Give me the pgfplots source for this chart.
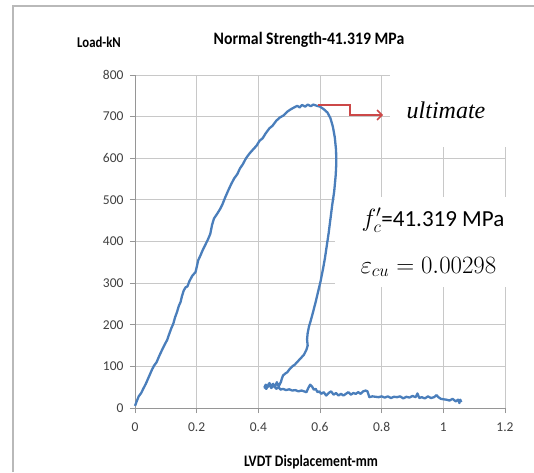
\documentclass[border=0pt]{standalone}
\usepackage{fontspec}
\usepackage{graphicx}
\usepackage{pgfplots}
\pgfplotsset{compat=1.18}
\usetikzlibrary{arrows.meta}
\setmainfont{Carlito}
\newfontfamily\serifit{Liberation Serif}
\definecolor{xlblue}{RGB}{74,126,187}
\definecolor{xlred}{RGB}{204,72,72}
\definecolor{gridgray}{RGB}{200,200,200}
\definecolor{axgray}{RGB}{150,150,150}
\definecolor{ticktext}{RGB}{64,64,64}
\begin{document}
\begin{tikzpicture}[x=1pt,y=1pt]
\useasboundingbox (-135,-64) rectangle (399,408);
\draw[gray!55,line width=1.2pt] (-122,-64) -- (-122,402) -- (399,402);
\begin{axis}[
  at={(0,0)}, anchor=south west,
  scale only axis, width=370pt, height=333pt,
  xmin=0, xmax=1.2, ymin=0, ymax=800,
  xtick={0,0.2,0.4,0.6,0.8,1,1.2},
  ytick={0,100,...,800},
  axis x line*=bottom, axis y line*=left,
  axis line style={axgray, line width=0.8pt},
  grid=major,
  major grid style={gridgray, line width=0.9pt},
  tick align=outside, major tick length=5pt,
  tick style={axgray, line width=0.8pt},
  /pgf/number format/assume math mode=true,
  ticklabel style={font=\fontsize{13.5}{15}\selectfont, text=ticktext},
  xticklabel style={yshift=-6pt},
  yticklabel style={xshift=-3pt},
  clip=false,
]
% white boxes behind annotation texts (cover grid lines)
\fill[white] (axis cs:0.828,627) rectangle (axis cs:1.3,805);
\fill[white] (axis cs:0.648,291) rectangle (axis cs:1.3,508);
\addplot[xlblue, line width=2.3pt, line join=round] coordinates {
(0.000,5) (0.005,15) (0.012,28) (0.020,36) (0.028,48) (0.035,58) (0.045,75)
(0.055,92) (0.062,102) (0.070,110) (0.078,124) (0.088,140) (0.096,152)
(0.104,163) (0.112,180) (0.118,192) (0.124,202) (0.130,218) (0.136,230)
(0.142,245) (0.148,255) (0.152,268) (0.158,282) (0.164,290) (0.170,292)
(0.176,304) (0.186,318) (0.196,326) (0.200,338) (0.205,355) (0.212,366)
(0.220,380) (0.228,392) (0.236,404) (0.244,418) (0.250,440) (0.256,455)
(0.266,466) (0.276,478) (0.284,490) (0.292,505) (0.302,522) (0.312,538)
(0.322,552) (0.332,562) (0.340,575) (0.350,586) (0.360,600) (0.372,612)
(0.384,622) (0.394,630) (0.404,642) (0.414,648) (0.424,660) (0.436,672)
(0.446,678) (0.458,690) (0.470,698) (0.482,703) (0.494,712) (0.506,718)
(0.516,722) (0.526,726) (0.534,722) (0.542,728) (0.552,724) (0.560,729)
(0.570,725) (0.578,729) (0.590,726) (0.600,724) (0.612,718) (0.624,710)
(0.634,696) (0.642,675) (0.648,650) (0.652,620) (0.653,590) (0.651,560)
(0.646,520) (0.640,490) (0.634,455) (0.628,420) (0.622,390) (0.616,360)
(0.610,335) (0.602,305) (0.594,280) (0.586,255) (0.578,232) (0.570,210)
(0.564,195) (0.560,180) (0.558,165) (0.560,150) (0.556,140) (0.548,128)
(0.538,120) (0.528,112) (0.518,104) (0.510,100) (0.500,92) (0.494,86)
(0.486,82) (0.480,78) (0.476,70) (0.474,64) (0.470,58) (0.466,52)
(0.460,62) (0.454,50) (0.448,58) (0.442,52) (0.436,60) (0.430,50)
(0.424,56) (0.420,50) (0.426,46) (0.434,58) (0.442,48) (0.450,54)
(0.458,46) (0.466,50) (0.472,44) (0.480,46) (0.490,43) (0.500,45)
(0.510,42) (0.520,43) (0.530,40) (0.540,42) (0.548,40) (0.556,38)
(0.562,48) (0.568,56) (0.574,52) (0.580,44) (0.586,46) (0.592,38)
(0.598,40) (0.604,34) (0.612,38) (0.620,30) (0.628,36) (0.636,40)
(0.644,32) (0.652,36) (0.660,30) (0.668,34) (0.676,30) (0.684,34)
(0.692,38) (0.700,32) (0.708,36) (0.716,34) (0.724,38) (0.732,34)
(0.740,40) (0.748,42) (0.754,40) (0.760,26) (0.770,28) (0.780,27)
(0.790,26) (0.800,28) (0.810,25) (0.820,28) (0.830,24) (0.840,27)
(0.850,26) (0.860,28) (0.870,23) (0.880,27) (0.890,25) (0.900,29)
(0.910,26) (0.916,35) (0.922,24) (0.930,26) (0.940,23) (0.950,28)
(0.960,24) (0.970,26) (0.978,31) (0.984,26) (0.992,22) (1.000,21)
(1.010,20) (1.020,18) (1.030,22) (1.040,16) (1.048,20) (1.052,12)
(1.055,20) (1.058,14)
};
\addplot[xlred, line width=1.6pt, -{Straight Barb[length=5pt,width=10pt]}] coordinates {
(0.594,728) (0.698,728) (0.698,704) (0.805,704)
};
\end{axis}
\node at (174,368) {\scalebox{0.9}[1]{\bfseries\fontsize{17.5}{20}\selectfont Normal Strength-41.319 MPa}};
\node at (-36,366) {\scalebox{0.85}[1]{\bfseries\fontsize{15}{18}\selectfont Load-kN}};
\node at (176,-54) {\scalebox{0.85}[1]{\bfseries\fontsize{16}{19}\selectfont LVDT Displacement-mm}};
\node at (311,298) {\serifit\itshape\fontsize{24}{27}\selectfont ultimate};
\node[anchor=west] at (223,188) {\fontsize{23}{27}\selectfont $f'_c$=41.319 MPa};
\node[anchor=west] at (222,141) {\fontsize{24}{28}\selectfont $\varepsilon_{cu}=0.00298$};
\end{tikzpicture}
\end{document}
